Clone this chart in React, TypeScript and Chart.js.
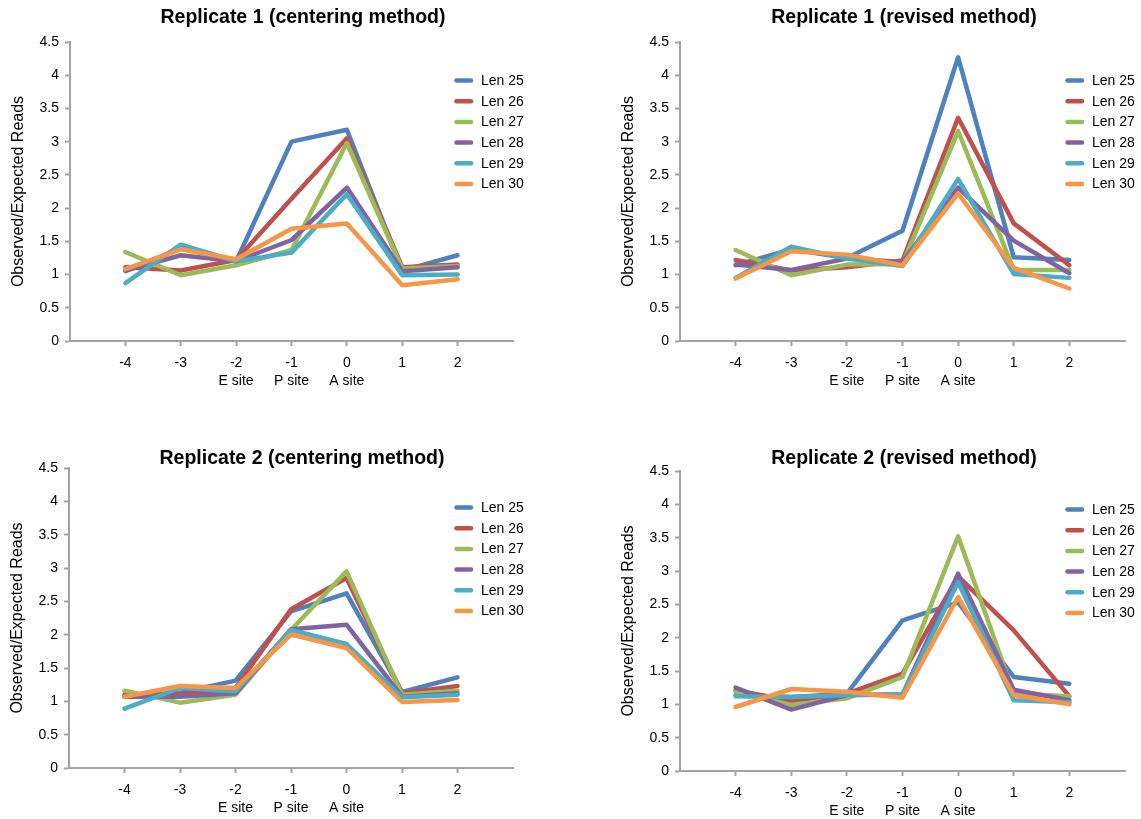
import React, { useEffect, useRef } from 'react';
import { Chart, registerables } from 'chart.js';

Chart.register(...registerables);

const FONT = '"Liberation Sans", Arial, Helvetica, sans-serif';
const AXIS = '#A3A3A3';

// Categories (nucleotide offset) and site labels
const positions = [-4, -3, -2, -1, 0, 1, 2];
const siteLabels = ['', '', 'E site', 'P site', 'A site', '', ''];
const seriesNames = ['Len 25', 'Len 26', 'Len 27', 'Len 28', 'Len 29', 'Len 30'];
const seriesColors = ['#4F81BD', '#C0504D', '#9BBB59', '#8064A2', '#4BACC6', '#F79646'];
const yMin = 0;
const yMax = 4.5;
const yStep = 0.5;
const yTitle = 'Observed/Expected Reads';

// Replicate 1 (centering method)
const r1c25 = [1.05, 1.40, 1.20, 3.00, 3.18, 1.06, 1.29];
const r1c26 = [1.11, 1.06, 1.22, 2.14, 3.05, 1.11, 1.15];
const r1c27 = [1.34, 0.99, 1.14, 1.37, 2.98, 1.09, 1.13];
const r1c28 = [1.06, 1.29, 1.20, 1.52, 2.31, 1.05, 1.11];
const r1c29 = [0.87, 1.45, 1.20, 1.33, 2.21, 0.99, 1.00];
const r1c30 = [1.08, 1.38, 1.23, 1.69, 1.77, 0.84, 0.93];

// Replicate 1 (revised method)
const r1r25 = [1.14, 1.38, 1.25, 1.66, 4.27, 1.26, 1.22];
const r1r26 = [1.22, 1.06, 1.11, 1.21, 3.36, 1.77, 1.14];
const r1r27 = [1.37, 0.99, 1.15, 1.16, 3.16, 1.07, 1.07];
const r1r28 = [1.15, 1.07, 1.24, 1.19, 2.31, 1.51, 1.02];
const r1r29 = [0.95, 1.42, 1.24, 1.13, 2.44, 1.01, 0.95];
const r1r30 = [0.94, 1.35, 1.30, 1.14, 2.22, 1.10, 0.79];

// Replicate 2 (centering method)
const r2c25 = [1.08, 1.13, 1.31, 2.35, 2.62, 1.14, 1.36];
const r2c26 = [1.10, 1.10, 1.20, 2.38, 2.85, 1.12, 1.23];
const r2c27 = [1.16, 0.98, 1.10, 2.07, 2.95, 1.10, 1.16];
const r2c28 = [1.07, 1.07, 1.12, 2.08, 2.15, 1.07, 1.12];
const r2c29 = [0.89, 1.20, 1.15, 2.07, 1.86, 1.06, 1.10];
const r2c30 = [1.07, 1.23, 1.20, 2.00, 1.80, 0.99, 1.02];

// Replicate 2 (revised method)
const r2r25 = [1.14, 1.11, 1.16, 2.26, 2.53, 1.41, 1.31];
const r2r26 = [1.21, 1.05, 1.16, 1.46, 2.92, 2.11, 1.12];
const r2r27 = [1.19, 0.99, 1.09, 1.41, 3.52, 1.16, 1.12];
const r2r28 = [1.25, 0.92, 1.14, 1.15, 2.96, 1.22, 1.06];
const r2r29 = [1.12, 1.11, 1.14, 1.14, 2.83, 1.06, 1.03];
const r2r30 = [0.96, 1.23, 1.19, 1.10, 2.61, 1.14, 1.00];

type Panel = {
  title: string;
  series: number[][];
  canvasLeft: number;
  canvasTop: number;
  canvasWidth: number;
  canvasHeight: number;
  plotLeft: number;
  plotTop: number;
  plotRight: number;
  plotBottom: number;
  titleX: number;
  titleY: number;
  legendX: number;
  legendY: number;
};

const panels: Panel[] = [
  {
    title: 'Replicate 1 (centering method)',
    series: [r1c25, r1c26, r1c27, r1c28, r1c29, r1c30],
    canvasLeft: 0, canvasTop: 0, canvasWidth: 570, canvasHeight: 410,
    plotLeft: 70, plotTop: 42, plotRight: 513, plotBottom: 341,
    titleX: 303, titleY: 18, legendX: 454, legendY: 80.5,
  },
  {
    title: 'Replicate 1 (revised method)',
    series: [r1r25, r1r26, r1r27, r1r28, r1r29, r1r30],
    canvasLeft: 590, canvasTop: 0, canvasWidth: 551, canvasHeight: 410,
    plotLeft: 680, plotTop: 42, plotRight: 1125, plotBottom: 341,
    titleX: 904, titleY: 18, legendX: 1065, legendY: 80.5,
  },
  {
    title: 'Replicate 2 (centering method)',
    series: [r2c25, r2c26, r2c27, r2c28, r2c29, r2c30],
    canvasLeft: 0, canvasTop: 420, canvasWidth: 570, canvasHeight: 399,
    plotLeft: 69, plotTop: 468, plotRight: 513, plotBottom: 768,
    titleX: 302, titleY: 459, legendX: 454, legendY: 507.5,
  },
  {
    title: 'Replicate 2 (revised method)',
    series: [r2r25, r2r26, r2r27, r2r28, r2r29, r2r30],
    canvasLeft: 590, canvasTop: 420, canvasWidth: 551, canvasHeight: 399,
    plotLeft: 680, plotTop: 471, plotRight: 1125, plotBottom: 771,
    titleX: 904, titleY: 459, legendX: 1065, legendY: 509.5,
  },
];

function PanelChart({ p }: { p: Panel }) {
  const ref = useRef<HTMLCanvasElement>(null);
  useEffect(() => {
    if (!ref.current) return;
    const cl = p.canvasLeft;
    const ct = p.canvasTop;
    const padTop = p.plotTop - ct;
    const yAxisWidth = p.plotLeft - cl;
    const padRight = cl + p.canvasWidth - p.plotRight;
    const xAxisHeight = ct + p.canvasHeight - p.plotBottom;
    const yTitleSize = 16;
    const yTitlePad = p.plotLeft - 51.5 - cl - (yTitleSize * 1.2) / 2;

    const decor = {
      id: 'decor',
      afterDraw(chart: any) {
        const ctx = chart.ctx as CanvasRenderingContext2D;
        ctx.save();
        ctx.fillStyle = '#000';
        ctx.font = `bold 19.5px ${FONT}`;
        ctx.textAlign = 'center';
        ctx.textBaseline = 'middle';
        ctx.fillText(p.title, p.titleX - cl, p.titleY - ct);
        chart.data.datasets.forEach((ds: any, i: number) => {
          const y = p.legendY - ct + i * 20.7;
          ctx.strokeStyle = ds.borderColor;
          ctx.lineWidth = 4.5;
          ctx.lineCap = 'round';
          ctx.beginPath();
          ctx.moveTo(p.legendX - cl + 2.5, y);
          ctx.lineTo(p.legendX - cl + 17, y);
          ctx.stroke();
          ctx.font = `14px ${FONT}`;
          ctx.textAlign = 'left';
          ctx.fillStyle = '#000';
          ctx.fillText(ds.label, p.legendX - cl + 27, y + 0.5);
        });
        ctx.restore();
      },
    };

    const chart = new Chart(ref.current, {
      type: 'line',
      data: {
        datasets: seriesNames.map((name, i) => ({
          label: name,
          data: positions.map((x, j) => ({ x, y: p.series[i][j] })),
          borderColor: seriesColors[i],
          backgroundColor: seriesColors[i],
          borderWidth: 4.5,
          pointRadius: 0,
          pointHoverRadius: 0,
          tension: 0,
          fill: false,
          borderJoinStyle: 'round',
          borderCapStyle: 'round',
          order: seriesNames.length - 1 - i,
        })),
      },
      options: {
        responsive: false,
        animation: false,
        events: [],
        layout: { padding: { left: 0, top: padTop, right: padRight, bottom: 0 } },
        plugins: {
          legend: { display: false },
          title: { display: false },
          tooltip: { enabled: false },
        },
        scales: {
          x: {
            type: 'linear',
            min: -5,
            max: 3,
            afterFit: (s: any) => { s.height = xAxisHeight; },
            border: { display: true, color: AXIS, width: 2 },
            grid: {
              display: true,
              drawOnChartArea: false,
              drawTicks: true,
              tickLength: 5,
              tickWidth: 2,
              tickColor: (c: any) =>
                c.tick && positions.includes(c.tick.value) ? AXIS : 'rgba(0,0,0,0)',
            },
            ticks: {
              stepSize: 1,
              autoSkip: false,
              maxRotation: 0,
              padding: 8,
              color: '#000',
              font: { family: FONT, size: 14, lineHeight: 1.3 },
              callback: (v: any) => {
                const j = positions.indexOf(Number(v));
                if (j < 0) return '';
                return siteLabels[j] ? [String(v), siteLabels[j]] : String(v);
              },
            },
          },
          y: {
            min: yMin,
            max: yMax,
            afterFit: (s: any) => { s.width = yAxisWidth; },
            border: { display: true, color: AXIS, width: 2 },
            grid: {
              display: true,
              drawOnChartArea: false,
              drawTicks: true,
              tickLength: 5,
              tickWidth: 2,
              tickColor: AXIS,
            },
            ticks: {
              stepSize: yStep,
              padding: 6,
              color: '#000',
              font: { family: FONT, size: 14 },
              callback: (v: any) => String(Math.round(Number(v) * 10) / 10),
            },
            title: {
              display: true,
              text: yTitle,
              color: '#000',
              font: { family: FONT, size: yTitleSize },
              padding: { top: yTitlePad, bottom: 0 },
            },
          },
        },
      },
      plugins: [decor],
    } as any);
    return () => chart.destroy();
  }, [p]);

  return (
    <canvas
      ref={ref}
      width={p.canvasWidth}
      height={p.canvasHeight}
      style={{
        position: 'absolute',
        left: p.canvasLeft,
        top: p.canvasTop,
        width: p.canvasWidth,
        height: p.canvasHeight,
      }}
    />
  );
}

export default function App() {
  return (
    <div
      style={{
        position: 'absolute',
        left: 0,
        top: 0,
        width: 1141,
        height: 819,
        background: '#fff',
        overflow: 'hidden',
      }}
    >
      {panels.map((p) => (
        <PanelChart key={p.title} p={p} />
      ))}
    </div>
  );
}
